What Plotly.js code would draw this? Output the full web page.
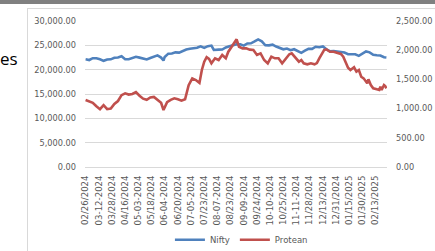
<!DOCTYPE html>
<html>
<head>
<meta charset="utf-8">
<script src="https://cdn.plot.ly/plotly-3.0.1.min.js"></script>
<style>
  html, body { margin: 0; padding: 0; background: #ffffff; }
  #wrap { position: relative; width: 435px; height: 251px; overflow: hidden; background: #ffffff; }
  #topbar { position: absolute; left: 0; top: 0; width: 435px; height: 4px; background: #808080; }
  #frame { position: absolute; left: 27px; top: 8px; width: 420px; height: 260px; border-left: 1px solid #d9d9d9; border-top: 1px solid #d9d9d9; }
  #es { position: absolute; left: 0px; top: 47px; font-family: "Open Sans", sans-serif; font-size: 17px; color: #000; }
  #chart { position: absolute; left: 0; top: 0; width: 435px; height: 251px; }
</style>
</head>
<body>
<div id="wrap">
  <div id="topbar"></div>
  <div id="frame"></div>
  <div id="es">es</div>
  <div id="chart"></div>
</div>
<script>
// Category labels shown on the x axis (every 11th trading day)
const tickLabels = ["02/26/2024","03-12-2024","03/28/2024","04/16/2024","05-03-2024","05/18/2024",
  "06-04-2024","06/20/2024","07-05-2024","07/23/2024","08-07-2024","08/23/2024","09-09-2024",
  "09/24/2024","10-10-2024","10/25/2024","11-11-2024","11/28/2024","12/13/2024","12/31/2024",
  "01/15/2025","01/30/2025","02/13/2025"];
const tickEvery = 11;
const totalDays = 252;

// Nifty (left axis): trading-day index and close
const niftyDay = [0,3,6,9,12,15,18,21,24,27,30,33,36,39,42,45,48,51,54,57,60,63,65,66,69,72,75,78,81,84,
  87,90,93,96,99,102,105,107,108,111,114,117,120,123,126,129,132,135,138,141,144,147,150,153,156,159,162,
  165,168,171,174,177,180,183,186,189,192,195,198,201,204,207,210,213,216,219,222,225,228,231,234,237,240,
  243,246,249,251];
const niftyValue = [22122,21983,22356,22333,22147,21818,22097,22124,22453,22514,22754,22148,22147,22402,
  22643,22476,22302,22104,22403,22597,22932,22488,21884,22620,23290,23323,23557,23501,23868,24141,
  24302,24433,24502,24800,24479,24834,24951,24055,24100,24117,24139,24572,24811,25017,25235,25198,24936,
  25388,25418,25791,26216,25811,25014,25000,25128,24749,24472,24180,24340,23995,24199,23883,23453,23907,
  24274,24276,24708,24610,24768,24198,23753,23813,23742,23616,23526,23176,23203,23155,22829,23249,23739,
  23560,23045,22959,22913,22547,22500];

// Protean (right axis): trading-day index and close
const proteanDay = [0,3,6,9,12,15,18,21,24,27,30,33,36,39,42,45,48,51,54,57,60,63,65,68,71,74,77,80,83,86,
  89,92,95,97,99,101,103,105,108,111,114,117,119,121,124,126,128,131,134,137,140,143,146,149,152,155,158,
  161,164,167,170,172,175,178,180,182,185,188,191,193,195,197,199,201,204,207,210,213,215,217,219,221,224,
  226,228,230,232,235,236,238,240,243,245,246,247,249,250,251];
const proteanValue = [1147,1130,1100,1040,990,1060,990,1000,1080,1130,1230,1262,1240,1250,1284,1220,1170,
  1150,1190,1200,1150,1100,976,1110,1150,1176,1160,1135,1160,1400,1518,1489,1440,1661,1803,1880,1850,1775,
  1861,1832,1918,1861,1970,2032,2118,2186,2060,2032,2032,2010,2003,1918,1946,1832,1775,1889,1861,1861,1775,
  1861,1930,1946,1880,1803,1832,1775,1758,1775,1758,1780,1861,1946,2003,2015,1974,1974,1957,1935,1889,1803,
  1700,1661,1707,1632,1661,1546,1518,1433,1501,1404,1347,1330,1318,1375,1318,1404,1387,1347];

const tickVals = tickLabels.map((_, i) => i * tickEvery);
const grey = '#595959';
const tickFont = { family: 'DejaVu Sans, sans-serif', size: 8.2, color: grey };

const traces = [
  { x: niftyDay, y: niftyValue, name: 'Nifty', type: 'scatter', mode: 'lines',
    line: { color: '#4f81bd', width: 2.6 }, yaxis: 'y' },
  { x: proteanDay, y: proteanValue, name: 'Protean', type: 'scatter', mode: 'lines',
    line: { color: '#c0504d', width: 2.6 }, yaxis: 'y2' }
];

const layout = {
  width: 435, height: 251,
  margin: { l: 85, r: 48, t: 21, b: 84, pad: 0, autoexpand: false },
  paper_bgcolor: 'rgba(0,0,0,0)', plot_bgcolor: 'rgba(0,0,0,0)',
  showlegend: true,
  legend: { orientation: 'h', xref: 'container', yref: 'container', x: 0.555, xanchor: 'center',
    y: 0.045, yanchor: 'middle',
    font: { family: 'DejaVu Sans, sans-serif', size: 8.5, color: grey },
    itemwidth: 30, tracegroupgap: 0, bgcolor: 'rgba(0,0,0,0)' },
  xaxis: { range: [-0.5, totalDays - 0.5], tickmode: 'array', tickvals: tickVals, ticktext: tickLabels,
    tickangle: -90, tickfont: { family: 'DejaVu Sans, sans-serif', size: 8.6, color: grey },
    showgrid: false, zeroline: false, showline: true, linecolor: '#d9d9d9', linewidth: 1,
    ticks: '', ticklabelstandoff: 4, automargin: false, fixedrange: true },
  yaxis: { range: [0, 30000], dtick: 5000, tickformat: ',.2f', tickfont: tickFont,
    gridcolor: '#d9d9d9', gridwidth: 1, zeroline: false, showline: false, ticks: '',
    ticklabelstandoff: 8, automargin: false },
  yaxis2: { range: [0, 2500], dtick: 500, tickformat: ',.2f', tickfont: tickFont,
    overlaying: 'y', side: 'right', showgrid: false, zeroline: false, showline: false, ticks: '',
    ticklabelstandoff: 8, automargin: false }
};

Plotly.newPlot('chart', traces, layout, { staticPlot: true, displayModeBar: false });
</script>
</body>
</html>
